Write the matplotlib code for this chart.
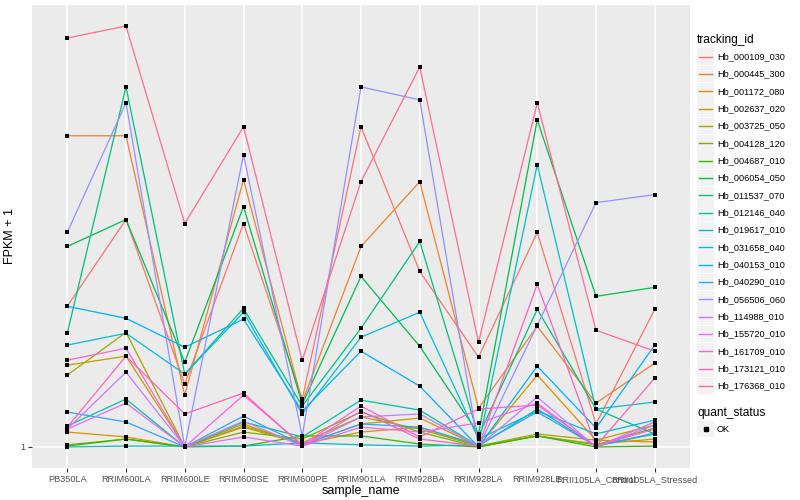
import numpy as np
import matplotlib
matplotlib.use("Agg")
import matplotlib.pyplot as plt
from matplotlib.patches import Rectangle
from matplotlib.lines import Line2D
from matplotlib.ticker import NullLocator

plt.rcParams['font.family'] = ['Liberation Sans', 'DejaVu Sans']

samples = ["PB350LA", "RRIM600LA", "RRIM600LE", "RRIM600SE", "RRIM600PE", "RRIM901LA",
           "RRIM928BA", "RRIM928LA", "RRIM928LE", "RRII105LA_Control", "RRII105LA_Stressed"]

tracking_ids = ["Hb_000109_030", "Hb_000445_300", "Hb_001172_080", "Hb_002637_020", "Hb_003725_050",
                "Hb_004128_120", "Hb_004687_010", "Hb_006054_050", "Hb_011537_070", "Hb_012146_040",
                "Hb_019617_010", "Hb_031658_040", "Hb_040153_010", "Hb_040290_010", "Hb_056506_060",
                "Hb_114988_010", "Hb_155720_010", "Hb_161709_010", "Hb_173121_010", "Hb_176368_010"]

# FPKM + 1 per sample (order of `samples`)
hb_000109_030 = [25.7, 190.5, 4.27, 173.8, 3.02, 1622, 57.5, 7.94, 141.3, 1.70, 24.0]
hb_000445_300 = [1318, 1318, 3.31, 478.6, 2.82, 102.3, 457, 2.45, 16.2, 2.75, 6.92]
hb_001172_080 = [1.41, 1.26, 1.00, 1.58, 1.07, 1.41, 1.58, 1.02, 5.25, 1.17, 1.12]
hb_002637_020 = [6.61, 8.13, 1.00, 1.70, 1.05, 1.70, 1.95, 1.02, 1.29, 1.07, 1.20]
hb_003725_050 = [5.25, 14.1, 1.00, 1.62, 1.10, 2.00, 1.51, 1.02, 1.35, 1.17, 1.66]
hb_004128_120 = [1.05, 1.20, 1.00, 1.41, 1.20, 2.24, 1.41, 1.00, 1.29, 1.05, 1.55]
hb_004687_010 = [1.02, 1.20, 1.00, 1.02, 1.29, 1.29, 1.07, 1.00, 1.29, 1.00, 1.02]
hb_006054_050 = [102.3, 190.5, 7.08, 257.0, 2.69, 51.3, 10.2, 1.35, 1905, 32.4, 39.8]
hb_011537_070 = [13.8, 4074, 5.37, 24.5, 2.57, 15.5, 114.8, 1.29, 24.0, 2.40, 1.35]
hb_012146_040 = [1.62, 3.02, 1.00, 1.78, 1.26, 2.95, 2.34, 1.02, 2.40, 1.02, 1.35]
hb_019617_010 = [1.00, 1.02, 1.02, 1.02, 1.10, 1.05, 1.02, 1.05, 676, 2.40, 2.82]
hb_031658_040 = [10.5, 13.8, 5.37, 22.4, 2.14, 12.6, 22.4, 1.20, 2.29, 1.35, 1.86]
hb_040153_010 = [25.7, 19.5, 10.0, 19.1, 2.29, 9.12, 4.07, 1.00, 6.46, 1.55, 10.5]
hb_040290_010 = [2.24, 1.78, 1.00, 2.04, 1.05, 1.70, 1.58, 1.05, 2.24, 1.02, 1.38]
hb_056506_060 = [141.3, 2818, 1.00, 851, 1.29, 4074, 3020, 1.00, 16.6, 281.8, 338.8]
hb_114988_010 = [1.51, 5.62, 1.00, 1.82, 1.02, 2.00, 2.14, 1.02, 3.16, 1.00, 1.66]
hb_155720_010 = [1.51, 2.75, 1.00, 1.26, 1.02, 1.58, 1.41, 1.74, 2.75, 1.00, 1.78]
hb_161709_010 = [7.41, 9.77, 1.00, 3.31, 1.05, 2.57, 1.26, 2.40, 2.63, 1.02, 1.51]
hb_173121_010 = [1.58, 8.13, 2.14, 3.47, 1.02, 2.29, 1.20, 1.02, 42.7, 1.02, 4.90]
hb_176368_010 = [12589, 16596, 173.8, 1622, 7.41, 457, 6457, 11.2, 2818, 14.8, 9.12]

series = [hb_000109_030, hb_000445_300, hb_001172_080, hb_002637_020, hb_003725_050,
          hb_004128_120, hb_004687_010, hb_006054_050, hb_011537_070, hb_012146_040,
          hb_019617_010, hb_031658_040, hb_040153_010, hb_040290_010, hb_056506_060,
          hb_114988_010, hb_155720_010, hb_161709_010, hb_173121_010, hb_176368_010]

colors = ["#F8766D", "#EA8331", "#D89000", "#C09B00", "#A3A500", "#7CAE00", "#39B600",
          "#00BB4E", "#00BF7D", "#00C1A3", "#00BFC4", "#00BAE0", "#00B0F6", "#35A2FF",
          "#9590FF", "#C77CFF", "#E76BF3", "#FA62DB", "#FF62BC", "#FF6C91"]

W, H = 800, 500
fig = plt.figure(figsize=(8, 5), dpi=100)
ax = fig.add_axes([32 / W, 32 / H, 658 / W, 463 / H])
ax.set_facecolor("#EBEBEB")

x = np.arange(len(samples))
for vals, col in zip(series, colors):
    ax.plot(x, vals, color=col, lw=0.9, zorder=2, solid_joinstyle='miter')
for vals in series:
    ax.scatter(x, vals, marker='s', s=7, c='black', linewidths=0, zorder=3)

ax.set_yscale('log')
allv = np.concatenate([np.asarray(v, float) for v in series])
lo, hi = np.log10(allv.min()), np.log10(allv.max())
pad = 0.05 * (hi - lo)
ax.set_ylim(10 ** (lo - pad), 10 ** (hi + pad))
ax.set_xlim(-0.6, len(samples) - 1 + 0.6)

ax.set_yticks([1])
ax.set_yticklabels(["1"])
ax.yaxis.set_minor_locator(NullLocator())
ax.set_xticks(x)
ax.set_xticklabels(samples)
ax.grid(True, color="white", lw=1.1)
ax.set_axisbelow(True)
for s in ax.spines.values():
    s.set_visible(False)
ax.tick_params(axis='both', length=3, width=0.8, color="#333333", labelcolor="#4D4D4D",
               labelsize=6.6, pad=2)
ax.set_xlabel("sample_name", fontsize=9, color="black", labelpad=1)
ax.set_ylabel("FPKM + 1", fontsize=9, color="black", labelpad=3)

def fx(px):
    return px / W

def fy(py):
    return 1 - py / H

# legend: tracking_id
fig.text(fx(697), fy(40), "tracking_id", fontsize=8.6, ha='left', va='center')
step = 17.33
for i, (tid, col) in enumerate(zip(tracking_ids, colors)):
    yc = 56.7 + i * step
    fig.patches.append(Rectangle((fx(697), fy(yc + 8.3)), 17 / W, 16.6 / H,
                                 transform=fig.transFigure, facecolor="#F2F2F2",
                                 edgecolor='none'))
    fig.lines.append(Line2D([fx(699), fx(712)], [fy(yc), fy(yc)], transform=fig.transFigure,
                            color=col, lw=1.0))
    fig.text(fx(717), fy(yc), tid, fontsize=6.6, ha='left', va='center', color='black')

# legend: quant_status
fig.text(fx(697), fy(413), "quant_status", fontsize=8.6, ha='left', va='center')
fig.patches.append(Rectangle((fx(697), fy(429 + 8.3)), 17 / W, 16.6 / H,
                             transform=fig.transFigure, facecolor="#F2F2F2", edgecolor='none'))
fig.lines.append(Line2D([fx(705.5)], [fy(429)], transform=fig.transFigure, marker='s',
                        markersize=2.8, color='black', linestyle='none'))
fig.text(fx(717), fy(429), "OK", fontsize=6.6, ha='left', va='center', color='black')

fig.savefig("out.png", dpi=100)
